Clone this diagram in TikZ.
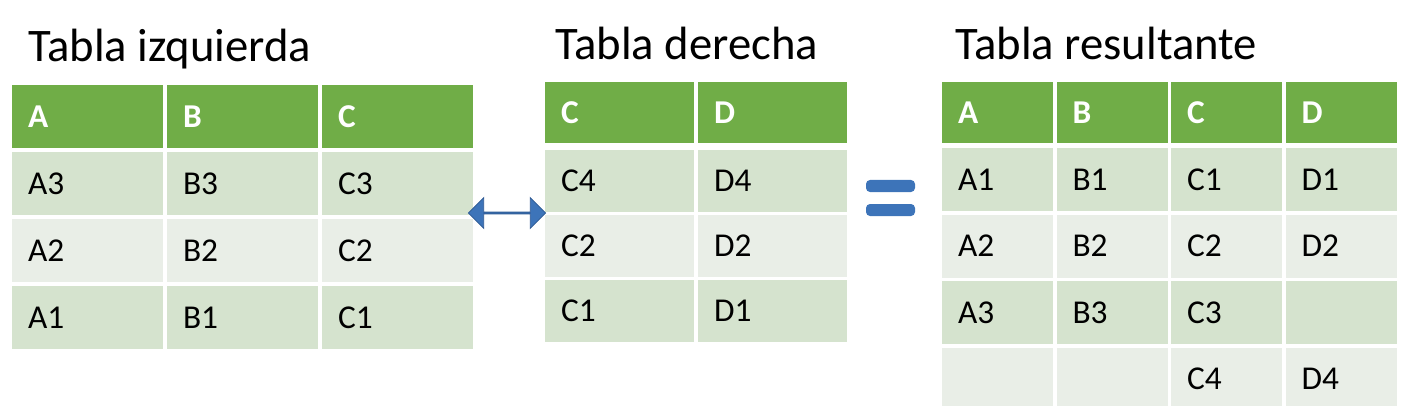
\documentclass[tikz,border=0pt]{standalone}
\usepackage{fontspec}
\setmainfont{Carlito}
\usetikzlibrary{shapes.arrows}
\definecolor{headgreen}{HTML}{70AD47}
\definecolor{row1}{HTML}{D5E3CE}
\definecolor{row0}{HTML}{E9EEE7}
\definecolor{arrowblue}{HTML}{3D74B9}
\definecolor{arrowline}{HTML}{2E5A94}
\tikzset{
  cell/.style={minimum width=#1*0.75pt, text width=#1*0.75pt-24pt, align=left,
    inner xsep=12pt, inner ysep=0pt, font=\fontsize{25}{28}\selectfont, text=black},
  headcell/.style={cell=#1, fill=headgreen, text=white, font=\fontsize{25}{28}\selectfont\bfseries},
  title/.style={anchor=base west, inner sep=0pt, font=\fontsize{35}{40}\selectfont},
  eqbar/.style={fill=arrowblue, rounded corners=3pt, minimum width=36.75pt, minimum height=9pt, inner sep=0pt}
}
\begin{document}
\begin{tikzpicture}[x=0.75pt,y=-0.75pt]
  \useasboundingbox (0,0) rectangle (1402,406);
  \clip (0,0) rectangle (1402,406);

  % Tabla izquierda
  \node[title] (tl) at (28,62) {Tabla izquierda};
  \foreach \txt [count=\c] in {A,B,C}
    \node[headcell=151, minimum height=47.25pt] (l-0-\c) at ({12+(\c-1)*155+75.5}, 116.5) {\txt};
  \foreach \row [count=\r, evaluate=\r as \shade using {int(mod(\r,2))}] in {{A3,B3,C3},{A2,B2,C2},{A1,B1,C1}}
    \foreach \txt [count=\c] in \row
      \node[cell=151, fill=row\shade, minimum height=47.25pt] (l-\r-\c) at ({12+(\c-1)*155+75.5}, {152+(\r-1)*67+31.5}) {\txt};

  % Tabla derecha
  \node[title] (tm) at (555,60) {Tabla derecha};
  \foreach \txt [count=\c] in {C,D}
    \node[headcell=149, minimum height=45.75pt] (m-0-\c) at ({545+(\c-1)*153+74.5}, 112.5) {\txt};
  \foreach \row [count=\r, evaluate=\r as \shade using {int(mod(\r,2))}] in {{C4,D4},{C2,D2},{C1,D1}}
    \foreach \txt [count=\c] in \row
      \node[cell=149, fill=row\shade, minimum height=46.5pt] (m-\r-\c) at ({545+(\c-1)*153+74.5}, {150+(\r-1)*65+31}) {\txt};

  % Tabla resultante
  \node[title] (tr) at (955,60) {Tabla resultante};
  \foreach \txt [count=\c] in {A,B,C,D}
    \node[headcell=111, minimum height=45.75pt] (r-0-\c) at ({942+(\c-1)*114.5+55.5}, 112.5) {\txt};
  \foreach \row [count=\r, evaluate=\r as \shade using {int(mod(\r,2))}] in {{A1,B1,C1,D1},{A2,B2,C2,D2},{A3,B3,C3,},{,,C4,D4}}
    \foreach \txt [count=\c] in \row
      \node[cell=111, fill=row\shade, minimum height=47.25pt] (r-\r-\c) at ({942+(\c-1)*114.5+55.5}, {148+(\r-1)*66.5+31.5}) {\txt};

  % Flecha y signo igual
  \node[double arrow, fill=arrowblue, draw=arrowline, line width=0.6pt,
    minimum width=23pt, minimum height=58pt, double arrow head extend=5pt,
    inner sep=0pt] (join) at (507,213) {};
  \node[eqbar] (eq-1) at (890.5,186) {};
  \node[eqbar] (eq-2) at (890.5,210) {};
\end{tikzpicture}
\end{document}
